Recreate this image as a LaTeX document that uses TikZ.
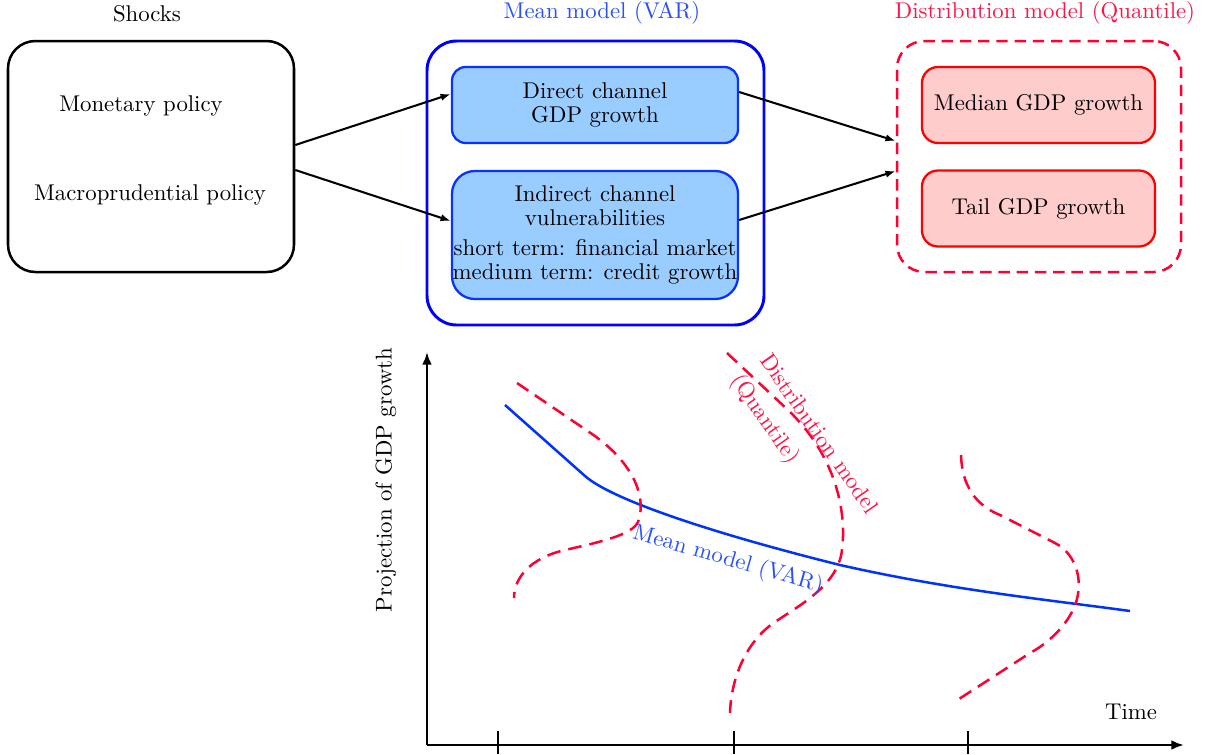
\documentclass[tikz,border=0pt]{standalone}
\usetikzlibrary{arrows.meta,calc}
\newdimen\pxu \pxu=0.4386pt
\definecolor{meanblue}{RGB}{40,80,255}
\definecolor{curveblue}{RGB}{0,50,255}
\definecolor{boxblue}{RGB}{0,0,255}
\definecolor{lightblue}{RGB}{153,204,255}
\definecolor{innerblue}{RGB}{10,50,255}
\definecolor{distred}{RGB}{255,20,70}
\definecolor{dashred}{RGB}{255,0,50}
\definecolor{boxred}{RGB}{255,0,0}
\definecolor{lightred}{RGB}{255,204,204}
\begin{document}
\begin{tikzpicture}[x=0.4386pt,y=-0.4386pt,
  shockbox/.style={draw=black, line width=1.1pt, rounded corners=12pt, minimum width=286\pxu, minimum height=231\pxu},
  outerblue/.style={draw=boxblue, line width=1.3pt, rounded corners=13pt, minimum width=337\pxu, minimum height=284\pxu},
  bluebox/.style={draw=innerblue, fill=lightblue, line width=1pt, minimum width=286\pxu, align=center, inner sep=0pt},
  outerred/.style={draw=dashred, line width=1.1pt, dash pattern=on 5pt off 3pt, rounded corners=12pt, minimum width=284\pxu, minimum height=231\pxu},
  redbox/.style={draw=boxred, fill=lightred, line width=1pt, rounded corners=7pt, minimum width=233\pxu, minimum height=76\pxu},
  conn/.style={line width=0.9pt, -{Latex[length=4.5pt,width=3.2pt]}},
  axis/.style={line width=1pt, -{Latex[length=5.5pt,width=4.2pt]}},
  tick/.style={line width=1pt},
  meancurve/.style={draw=curveblue, line width=1.1pt},
  distcurve/.style={draw=dashred, line width=1.1pt, dash pattern=on 6pt off 3.5pt},
]
\useasboundingbox (0,0) rectangle (1211,754);

% titles
\node (shockstitle) at (147,14) {Shocks};
\node[text=meanblue] (meantitle) at (602,13) {Mean model (VAR)};
\node[text=distred] (disttitle) at (1045,13) {Distribution model (Quantile)};

% shocks box
\node[shockbox] (shocks) at (151,156.5) {};
\node (mon) at (141,106) {Monetary policy};
\node (macro) at (150,195) {Macroprudential policy};

% mean model
\node[outerblue] (meanbox) at (595.5,183) {};
\node[bluebox, rounded corners=6pt, minimum height=76\pxu] (direct) at (595,105) {Direct channel\\[-1.5pt]GDP growth};
\node[bluebox, rounded corners=10pt, minimum height=128\pxu] (indirect) at (595,235)
  {Indirect channel\\[-1.5pt]vulnerabilities\\[1pt]short term: financial market\\[-1.5pt]medium term: credit growth};

% distribution model
\node[outerred] (distbox) at (1039,156.5) {};
\node[redbox] (median) at (1038.5,105) {Median GDP growth};
\node[redbox] (tail) at (1038.5,208.5) {Tail GDP growth};

% connectors
\draw[conn] ($(shocks.east)+(0,-11.5)$) -- ($(direct.west)+(0,-11)$);
\draw[conn] ($(shocks.east)+(0,13.5)$) -- ($(indirect.west)+(0,-14)$);
\draw[conn] ($(direct.east)+(0,-13)$) -- ($(distbox.west)+(0,-15.5)$);
\draw[conn] ($(indirect.east)+(0,-15)$) -- ($(distbox.west)+(0,14.5)$);

% axes
\coordinate (O) at (427,745);
\coordinate (ytop) at (427,352);
\coordinate (xend) at (1184,745);
\draw[axis] (O) -- (ytop);
\draw[axis] (O) -- (xend);
\coordinate (t1a) at (498,731); \coordinate (t1b) at (498,754);
\coordinate (t2a) at (734,731); \coordinate (t2b) at (734,754);
\coordinate (t3a) at (968,731); \coordinate (t3b) at (968,754);
\draw[tick] (t1a) -- (t1b);
\draw[tick] (t2a) -- (t2b);
\draw[tick] (t3a) -- (t3b);
\node[rotate=90] (ylab) at (386,480) {Projection of GDP growth};
\node (time) at (1131,712) {Time};

% mean curve
\draw[meancurve] (505,405) -- (585,476) .. controls (610,498) and (700,530) .. (840,565)
  .. controls (950,590) and (1050,600) .. (1130,611);

% distribution curves
\draw[distcurve] (517,383) -- (592,434) .. controls (630,460) and (648,495) .. (638,522)
  .. controls (632,535) and (600,542) .. (565,550) .. controls (530,558) and (514,578) .. (514,598);
\draw[distcurve] (727,353) -- (788,410) .. controls (835,455) and (847,510) .. (842,550)
  .. controls (838,585) and (800,605) .. (775,622) .. controls (745,642) and (731,680) .. (730,713);
\draw[distcurve] (961,455) .. controls (962,485) and (975,505) .. (1000,515) -- (1055,543)
  .. controls (1078,555) and (1085,585) .. (1073,610) .. controls (1063,630) and (1045,645) .. (1030,653) -- (959,699);

% curve labels
\node[text=meanblue, rotate=-16] (meanlab) at (728,560) {Mean model (VAR)};
\node[text=distred, rotate=-55, align=left] (distlab) at (803,445) {Distribution model\\[3.5pt](Quantile)};
\end{tikzpicture}
\end{document}
